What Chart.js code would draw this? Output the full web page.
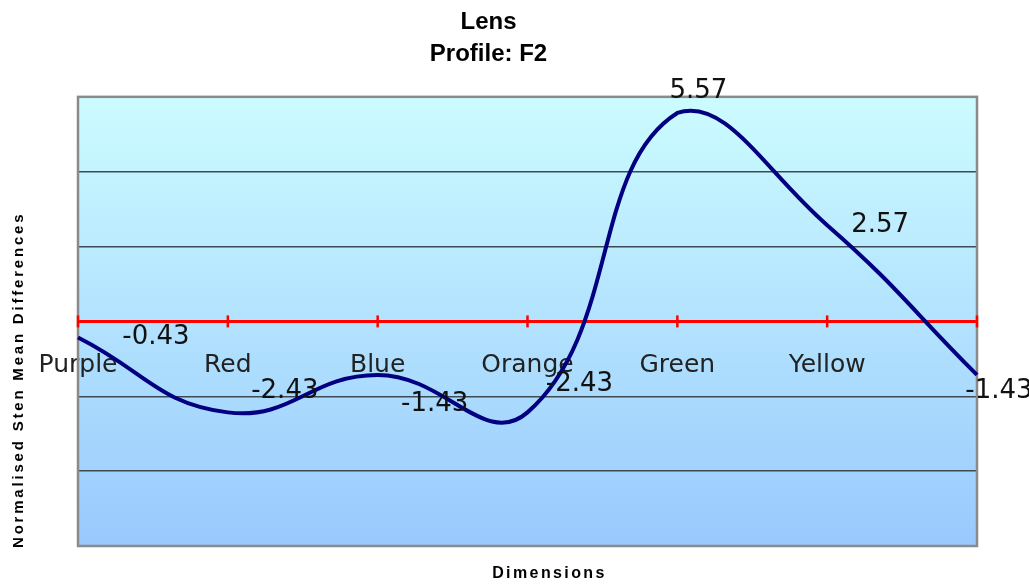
<!DOCTYPE html>
<html>
<head>
<meta charset="utf-8">
<script src="https://cdn.jsdelivr.net/npm/chart.js@4.4.1/dist/chart.umd.min.js"></script>
<style>
  html, body { margin: 0; padding: 0; background: #fff; }
  #wrap { width: 1029px; height: 585px; position: relative; }
</style>
</head>
<body>
<div id="wrap"><canvas id="lensChart"></canvas></div>
<script>
// categories along the x axis (last point has no name)
const dimensions = ["Purple", "Red", "Blue", "Orange", "Green", "Yellow", ""];
// normalised sten mean differences
const stenDiffs = [-0.43, -2.43, -1.43, -2.43, 5.57, 2.57, -1.43];
// y axis range / gridline step
const yMin = -6;
const yMax = 6;
const yStep = 2;

// where each value label sits relative to its point (px)
const labelNudge = [[78, 0], [57, -21], [57, 29], [52, -28], [21, -22], [53, 0], [22, 16]];

const plotDeco = {
    id: "plotDeco",
    beforeDraw(chart) {
        const { ctx, chartArea: a } = chart;
        const g = ctx.createLinearGradient(0, a.top, 0, a.bottom);
        g.addColorStop(0, "#ccfcff");
        g.addColorStop(1, "#99c9fd");
        ctx.save();
        ctx.fillStyle = g;
        ctx.fillRect(a.left, a.top, a.right - a.left, a.bottom - a.top);
        ctx.restore();
    },
    beforeDatasetsDraw(chart) {
        const { ctx, chartArea: a, scales } = chart;
        ctx.save();
        // plot frame
        ctx.strokeStyle = "#8a8a8a";
        ctx.lineWidth = 2.5;
        ctx.strokeRect(a.left, a.top, a.right - a.left, a.bottom - a.top);
        // red tick marks crossing the zero axis
        const y0 = scales.y.getPixelForValue(0);
        ctx.strokeStyle = "#ff0000";
        ctx.lineWidth = 2.5;
        scales.x.ticks.forEach((t, i) => {
            const x = scales.x.getPixelForTick(i);
            ctx.beginPath();
            ctx.moveTo(x, y0 - 6);
            ctx.lineTo(x, y0 + 6);
            ctx.stroke();
        });
        ctx.restore();
    },
    afterDatasetsDraw(chart) {
        const { ctx, chartArea: a } = chart;
        const meta = chart.getDatasetMeta(0);
        ctx.save();
        ctx.font = "26px 'DejaVu Sans'";
        ctx.fillStyle = "#111";
        ctx.textAlign = "center";
        ctx.textBaseline = "middle";
        meta.data.forEach((pt, i) => {
            const [dx, dy] = labelNudge[i];
            ctx.fillText(stenDiffs[i].toFixed(2), pt.x + dx, pt.y + dy);
        });

        // axis titles
        ctx.fillStyle = "#000";
        ctx.font = "bold 16px 'Liberation Sans', Arial";
        ctx.letterSpacing = "2.4px";
        ctx.fillText("Dimensions", (a.left + a.right) / 2 + 22, a.bottom + 28);

        ctx.font = "bold 15px 'Liberation Sans', Arial";
        ctx.letterSpacing = "2.8px";
        ctx.translate(19, a.bottom + 2);
        ctx.rotate(-Math.PI / 2);
        ctx.textAlign = "left";
        ctx.fillText("Normalised Sten Mean Differences", 0, 0);
        ctx.restore();
    }
};

const ctx = document.getElementById("lensChart").getContext("2d");
new Chart(ctx, {
    type: "line",
    data: {
        labels: dimensions,
        datasets: [{
            data: stenDiffs,
            borderColor: "#000080",
            borderWidth: 4,
            pointRadius: 0,
            tension: 0.45,
            fill: false
        }]
    },
    options: {
        responsive: true,
        maintainAspectRatio: false,
        animation: false,
        layout: { padding: { left: 0, right: 52, top: 0, bottom: 39 } },
        plugins: {
            legend: { display: false },
            tooltip: { enabled: false },
            title: {
                display: true,
                text: ["Lens", "Profile: F2"],
                color: "#000",
                font: { family: "'Liberation Sans', Arial", size: 24, weight: "bold", lineHeight: 1.33 },
                padding: { top: 6, bottom: 27 }
            }
        },
        scales: {
            x: {
                position: { y: 0 },
                grid: { display: false, drawTicks: false },
                border: { display: true, color: "#ff0000", width: 3 },
                ticks: {
                    color: "#222",
                    font: { family: "'DejaVu Sans'", size: 25 },
                    padding: 29,
                    autoSkip: false,
                    maxRotation: 0
                }
            },
            y: {
                min: yMin,
                max: yMax,
                ticks: { display: false, stepSize: yStep },
                grid: { color: "#3e4a52", lineWidth: 1.5, drawTicks: false },
                border: { display: false },
                afterFit(scale) { scale.width = 78; }
            }
        }
    },
    plugins: [plotDeco]
});
</script>
</body>
</html>
